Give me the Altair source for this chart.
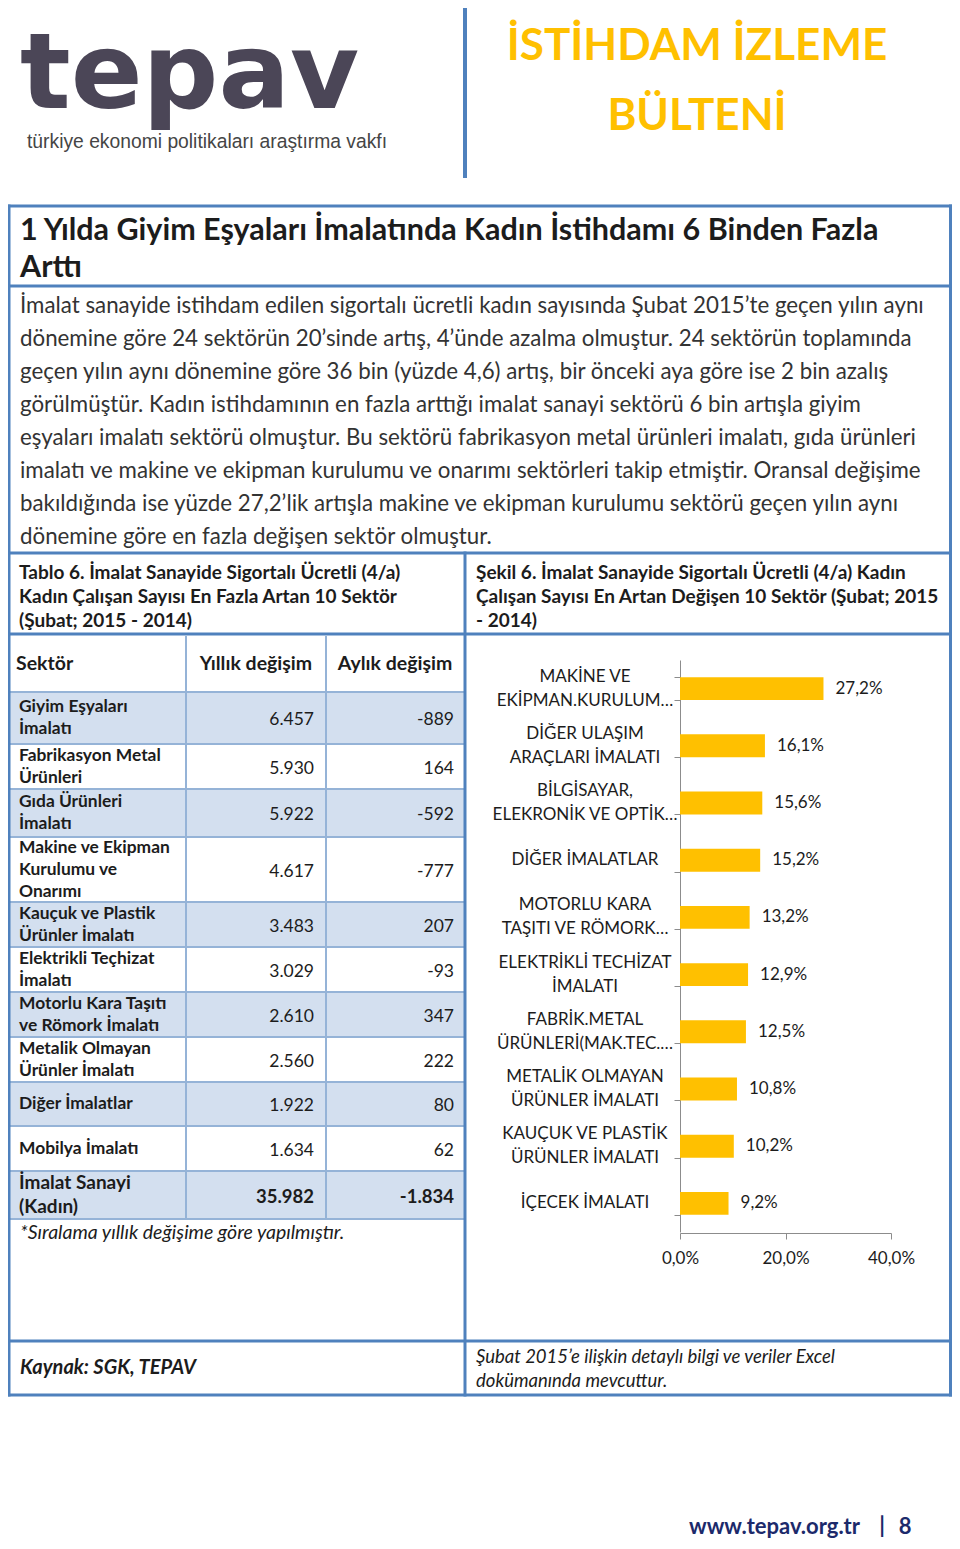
import altair as alt
import pandas as pd

# ------------------------------------------------------------------ data
chart_categories = [
    "MAKİNE VE\nEKİPMAN.KURULUM…",
    "DİĞER ULAŞIM\nARAÇLARI İMALATI",
    "BİLGİSAYAR,\nELEKRONİK VE OPTİK…",
    "DİĞER İMALATLAR",
    "MOTORLU KARA\nTAŞITI VE RÖMORK…",
    "ELEKTRİKLİ TECHİZAT\nİMALATI",
    "FABRİK.METAL\nÜRÜNLERİ(MAK.TEC.…",
    "METALİK OLMAYAN\nÜRÜNLER İMALATI",
    "KAUÇUK VE PLASTİK\nÜRÜNLER İMALATI",
    "İÇECEK İMALATI",
]
chart_values = [27.2, 16.1, 15.6, 15.2, 13.2, 12.9, 12.5, 10.8, 10.2, 9.2]
x_ticks = [0, 20, 40]

table_headers = ["Sektör", "Yıllık değişim", "Aylık değişim"]
table_sectors = [
    "Giyim Eşyaları\nİmalatı",
    "Fabrikasyon Metal\nÜrünleri",
    "Gıda Ürünleri\nİmalatı",
    "Makine ve Ekipman\nKurulumu ve\nOnarımı",
    "Kauçuk ve Plastik\nÜrünler İmalatı",
    "Elektrikli Teçhizat\nİmalatı",
    "Motorlu Kara Taşıtı\nve Römork İmalatı",
    "Metalik Olmayan\nÜrünler İmalatı",
    "Diğer İmalatlar",
    "Mobilya İmalatı",
    "İmalat Sanayi\n(Kadın)",
]
table_yearly = [6457, 5930, 5922, 4617, 3483, 3029, 2610, 2560, 1922, 1634, 35982]
table_monthly = [-889, 164, -592, -777, 207, -93, 347, 222, 80, 62, -1834]

logo_text = "tepav"
logo_sub = "türkiye ekonomi politikaları araştırma vakfı"
header_text = "İSTİHDAM İZLEME\nBÜLTENİ"
title_text = "1 Yılda Giyim Eşyaları İmalatında Kadın İstihdamı 6 Binden Fazla\nArttı"
paragraph_lines = [
    "İmalat sanayide istihdam edilen sigortalı ücretli kadın sayısında Şubat 2015’te geçen yılın aynı",
    "dönemine göre 24 sektörün 20’sinde artış, 4’ünde azalma olmuştur. 24 sektörün toplamında",
    "geçen yılın aynı dönemine göre 36 bin (yüzde 4,6) artış, bir önceki aya göre ise 2 bin azalış",
    "görülmüştür. Kadın istihdamının en fazla arttığı imalat sanayi sektörü 6 bin artışla giyim",
    "eşyaları imalatı sektörü olmuştur. Bu sektörü fabrikasyon metal ürünleri imalatı, gıda ürünleri",
    "imalatı ve makine ve ekipman kurulumu ve onarımı sektörleri takip etmiştir. Oransal değişime",
    "bakıldığında ise yüzde 27,2’lik artışla makine ve ekipman kurulumu sektörü geçen yılın aynı",
    "dönemine göre en fazla değişen sektör olmuştur.",
]
caption_left = "Tablo 6. İmalat Sanayide Sigortalı Ücretli (4/a)\nKadın Çalışan Sayısı En Fazla Artan 10 Sektör\n(Şubat; 2015 - 2014)"
caption_right = "Şekil 6. İmalat Sanayide Sigortalı Ücretli (4/a) Kadın\nÇalışan Sayısı En Artan Değişen 10 Sektör (Şubat; 2015\n- 2014)"
note_text = "*Sıralama yıllık değişime göre yapılmıştır."
source_text = "Kaynak: SGK, TEPAV"
excel_text = "Şubat 2015’e ilişkin detaylı bilgi ve veriler Excel\ndokümanında mevcuttur."
site_text = "www.tepav.org.tr"
page_sep = "|"
page_no = "8"

# ------------------------------------------------------------------ layout (page pixels)
OFF = 8
W, H = 944, 1533


def px(v):
    return v - OFF


BLUE = "#4f81bd"
GRID = "#95b3d7"
SHADE = "#d3dfef"
GOLD = "#ffc000"
INK = "#1c1c1c"
FONT = "Lato"

row_heights = [52, 45, 48, 65, 45, 45, 45, 45, 44, 45, 48]
table_top, header_bottom = 636, 692
col_lines = [186, 326]
table_left, table_right = 10, 465
RIGHT = 950.5


def text_layer(rows, **kw):
    df = pd.DataFrame(rows)
    df["x"] = df["x"].map(px)
    df["y"] = df["y"].map(px)
    kw.setdefault("font", FONT)
    kw.setdefault("color", INK)
    return alt.Chart(df).mark_text(**kw).encode(
        x=alt.X("x:Q", scale=None, axis=None),
        y=alt.Y("y:Q", scale=None, axis=None),
        text="t:N",
    )


def seg_layer(segs, mark="rule", **kw):
    df = pd.DataFrame(segs, columns=["x", "y", "x2", "y2"]).map(px)
    ch = alt.Chart(df)
    ch = ch.mark_rule(**kw) if mark == "rule" else ch.mark_rect(**kw)
    return ch.encode(
        x=alt.X("x:Q", scale=None, axis=None),
        x2="x2:Q",
        y=alt.Y("y:Q", scale=None, axis=None),
        y2="y2:Q",
    )


def first_line(center, text, lh):
    # vertical position of the first line so that a multi-line block is centred
    return center - (text.count("\n")) * lh / 2


layers = []

# header
layers.append(text_layer([{"x": 20, "y": 108, "t": logo_text}], font="DejaVu Sans",
                         fontWeight="bold", fontSize=106, color="#4b4657",
                         align="left", baseline="alphabetic"))
layers.append(text_layer([{"x": 27, "y": 142, "t": logo_sub}], font="Liberation Sans",
                         fontSize=19.3, color="#454545", align="left", baseline="middle"))
layers.append(text_layer([{"x": 697, "y": 60, "t": header_text}], fontWeight="bold",
                         fontSize=44, color=GOLD, align="center", baseline="alphabetic",
                         lineBreak="\n", lineHeight=70))
layers.append(seg_layer([(465, 3, 465, 178)], color=BLUE, strokeWidth=4))

# table shading
edges = [header_bottom]
for h in row_heights:
    edges.append(edges[-1] + h)
shade = [(table_left, edges[i], table_right, edges[i + 1]) for i in range(0, len(row_heights), 2)]
layers.append(seg_layer(shade, mark="rect", color=SHADE))

# table grid
grid = [(table_left, e, table_right, e) for e in edges]
grid += [(c, table_top, c, edges[-1]) for c in col_lines]
layers.append(seg_layer(grid, color=GRID, strokeWidth=2))

# box
box = [
    (9, 206, RIGHT, 206), (9, 1395, RIGHT, 1395), (9, 206, 9, 1395), (RIGHT, 206, RIGHT, 1395),
    (9, 286, RIGHT, 286), (9, 553, RIGHT, 553), (9, 634, RIGHT, 634), (9, 1341, RIGHT, 1341),
    (465, 553, 465, 1395),
]
layers.append(seg_layer(box, color=BLUE, strokeWidth=3, strokeCap="square"))

# title + paragraph
layers.append(text_layer([{"x": 20, "y": 240, "t": title_text}], fontWeight="bold",
                         fontSize=30.5, align="left", baseline="alphabetic",
                         lineBreak="\n", lineHeight=37))
layers.append(text_layer([{"x": 20, "y": 313, "t": "\n".join(paragraph_lines)}],
                         fontSize=22.3, color="#333333", align="left", baseline="alphabetic",
                         lineBreak="\n", lineHeight=33))

# captions
layers.append(text_layer([{"x": 19, "y": 579, "t": caption_left},
                          {"x": 476, "y": 579, "t": caption_right}],
                         fontWeight="bold", fontSize=19, align="left", baseline="alphabetic",
                         lineBreak="\n", lineHeight=24))

# table header
layers.append(text_layer([{"x": 16, "y": 664, "t": table_headers[0]}], fontWeight="bold",
                         fontSize=19.5, align="left", baseline="middle"))
layers.append(text_layer([{"x": 256, "y": 664, "t": table_headers[1]},
                          {"x": 395, "y": 664, "t": table_headers[2]}],
                         fontWeight="bold", fontSize=19.5, align="center", baseline="middle"))

# table body
centers = [(edges[i] + edges[i + 1]) / 2 for i in range(len(row_heights))]


def fmt(v):
    return f"{v:,}".replace(",", ".")


n = len(table_sectors)
LH = 22
layers.append(text_layer([{"x": 19, "y": first_line(centers[i], table_sectors[i], LH),
                           "t": table_sectors[i]} for i in range(n - 1)],
                         fontWeight="bold", fontSize=17.4, align="left", baseline="middle",
                         lineBreak="\n", lineHeight=LH))
layers.append(text_layer([{"x": 19, "y": first_line(centers[-1], table_sectors[-1], 24),
                           "t": table_sectors[-1]}],
                         fontWeight="bold", fontSize=19, align="left", baseline="middle",
                         lineBreak="\n", lineHeight=24))
num_rows = []
for i in range(n - 1):
    num_rows.append({"x": 314, "y": centers[i] + 2, "t": fmt(table_yearly[i])})
    num_rows.append({"x": 454, "y": centers[i] + 2, "t": fmt(table_monthly[i])})
layers.append(text_layer(num_rows, fontSize=17.5, align="right", baseline="middle"))
layers.append(text_layer([{"x": 314, "y": centers[-1] + 2, "t": fmt(table_yearly[-1])},
                          {"x": 454, "y": centers[-1] + 2, "t": fmt(table_monthly[-1])}],
                         fontWeight="bold", fontSize=18.5, align="right", baseline="middle"))
layers.append(text_layer([{"x": 20, "y": 1233, "t": note_text}], fontStyle="italic",
                         fontSize=19.5, align="left", baseline="middle"))

# footer
layers.append(text_layer([{"x": 20, "y": 1368, "t": source_text}], fontStyle="italic",
                         fontWeight="bold", fontSize=20, align="left", baseline="middle"))
layers.append(text_layer([{"x": 476, "y": 1363, "t": excel_text}], fontStyle="italic",
                         fontSize=18.5, align="left", baseline="alphabetic",
                         lineBreak="\n", lineHeight=24))
layers.append(text_layer([{"x": 689, "y": 1527, "t": site_text}], fontWeight="bold",
                         fontSize=22, color="#1c2a6b", align="left", baseline="middle"))
layers.append(text_layer([{"x": 882, "y": 1526, "t": page_sep},
                          {"x": 905, "y": 1527, "t": page_no}], fontWeight="bold",
                         fontSize=22, color="#1c2a6b", align="center", baseline="middle"))

# ------------------------------------------------------------------ bar chart
bar_df = pd.DataFrame({"cat": chart_categories, "pct": chart_values})
AX = "#8c8c8c"
X = alt.X(
    "pct:Q",
    scale=alt.Scale(domain=[0, 40], range=[px(680), px(891)], nice=False, zero=True),
    axis=alt.Axis(orient="bottom", offset=px(1233) - H, values=x_ticks, grid=False,
                  title=None, tickSize=6, labelPadding=11, labelFlush=False,
                  domainColor=AX, tickColor=AX,
                  labelExpr="replace(format(datum.value, '.1f'), '.', ',') + '%'",
                  labelFont=FONT, labelFontSize=17, labelColor=INK),
)
Y = alt.Y(
    "cat:N", sort=None,
    scale=alt.Scale(domain=chart_categories, range=[px(660), px(1232)],
                    paddingInner=0.6, paddingOuter=0.3),
    axis=alt.Axis(orient="left", offset=-px(680), grid=False, title=None,
                  tickBand="extent", tickSize=6, labels=False,
                  domainColor=AX, tickColor=AX),
)
base = alt.Chart(bar_df).encode(x=X, y=Y)
bars = base.mark_bar(color=GOLD)
vals = base.mark_text(align="left", baseline="middle", dx=12, font=FONT, fontSize=17,
                      color=INK).encode(text="lbl:N").transform_calculate(
    lbl="replace(format(datum.pct, '.1f'), '.', ',') + '%'")

# category labels (centred blocks left of the axis), drawn through the band scale
lab_kw = dict(align="center", baseline="middle", font=FONT, fontSize=17, color=INK,
              lineBreak="\n", lineHeight=24)
cat_two = alt.Chart(bar_df).transform_filter(
    "indexof(datum.cat, '\\n') >= 0"
).mark_text(dy=-12, **lab_kw).encode(x=alt.value(px(585)), y=Y, text="cat:N")
cat_one = alt.Chart(bar_df).transform_filter(
    "indexof(datum.cat, '\\n') < 0"
).mark_text(**lab_kw).encode(x=alt.value(px(585)), y=Y, text="cat:N")

bar_chart = alt.layer(bars, vals, cat_two, cat_one)

chart = alt.layer(*layers, bar_chart).resolve_scale(
    x="independent", y="independent"
).properties(
    width=W, height=H, padding=0, background="white",
    autosize=alt.AutoSizeParams(type="none"),
).configure_view(strokeWidth=0)

chart.save("out.html", embed_options={"renderer": "svg", "actions": False})
